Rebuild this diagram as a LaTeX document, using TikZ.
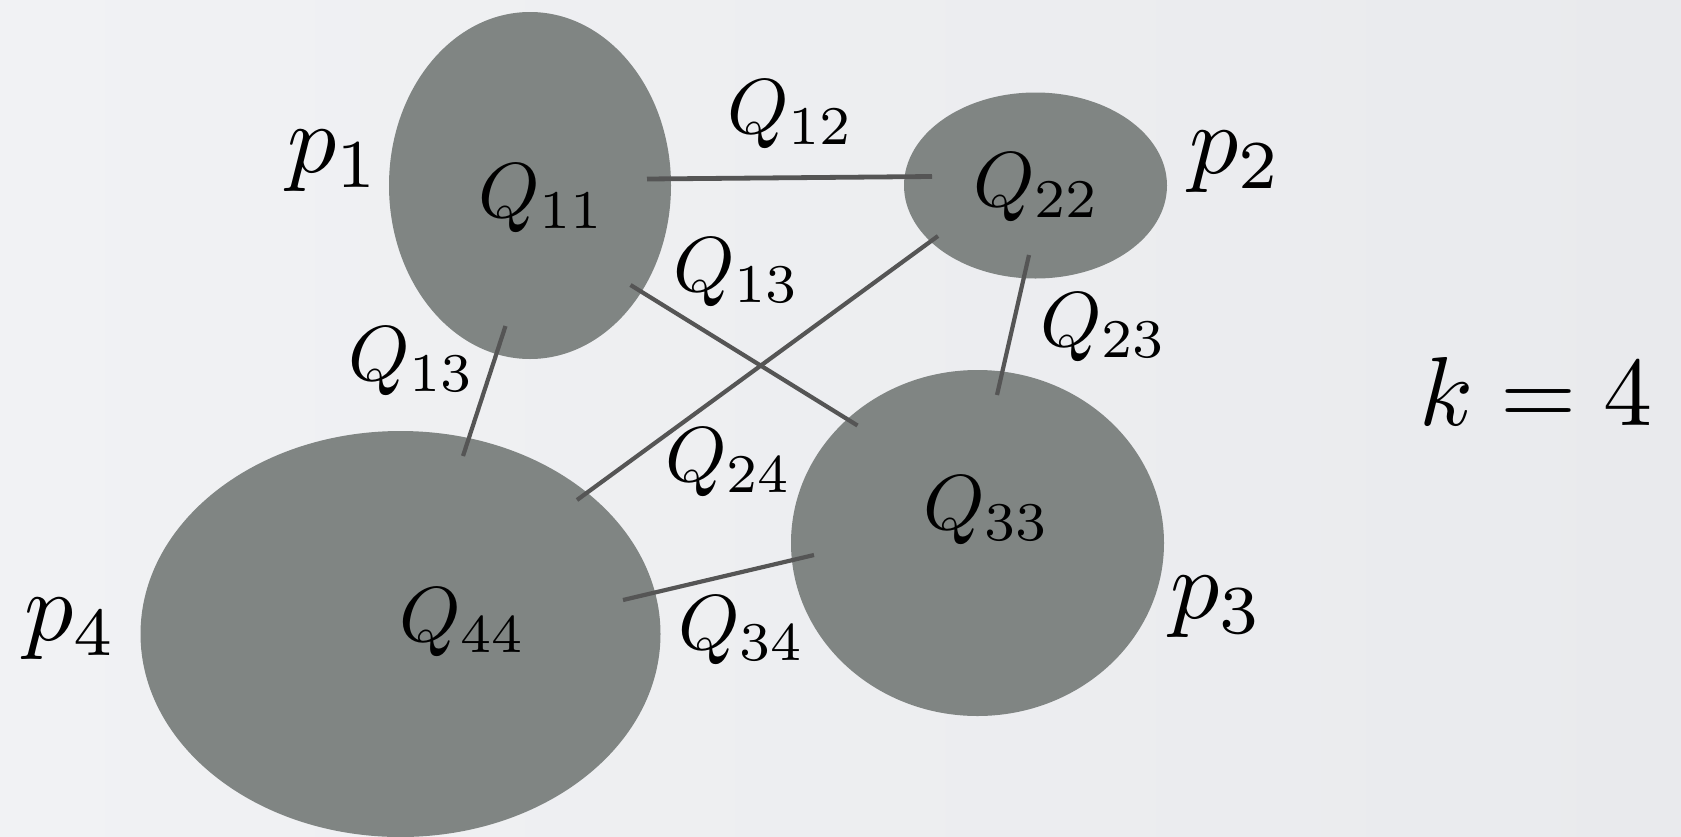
\documentclass[tikz,border=0pt]{standalone}
\usetikzlibrary{shapes.geometric}
\definecolor{bgL}{RGB}{241,242,244}
\definecolor{bgR}{RGB}{233,234,237}
\definecolor{blobc}{RGB}{128,133,131}
\definecolor{linkc}{RGB}{85,85,85}
\begin{document}
\begin{tikzpicture}[x=1pt,y=-1pt,
  blob/.style={ellipse,fill=blobc,draw=none,inner sep=0pt},
  qlab/.style={inner sep=0pt,scale=7.8},
  plab/.style={inner sep=0pt,scale=9.8},
  link/.style={draw=linkc,line width=4.2pt}]
\useasboundingbox (0,0) rectangle (1681,836);
\shade[left color=bgL,right color=bgR] (0,0) rectangle (1681,836);
% blobs
\node[blob,minimum width=282pt,minimum height=347pt] (e1) at (530,185.5) {};
\node[blob,minimum width=263pt,minimum height=186pt] (e2) at (1035.5,185.5) {};
\node[blob,minimum width=373pt,minimum height=346pt] (e3) at (977.5,543) {};
\node[blob,minimum width=520pt,minimum height=406pt] (e4) at (400.5,634) {};
% connector end points
\coordinate (a12) at (647,179);  \coordinate (b12) at (932,176.5);
\coordinate (a14) at (505.5,326); \coordinate (b14) at (463,456);
\coordinate (a13) at (630.5,285); \coordinate (b13) at (857.5,425.5);
\coordinate (a24) at (938,236);  \coordinate (b24) at (577,500);
\coordinate (a23) at (1029,255); \coordinate (b23) at (997,395);
\coordinate (a34) at (814,555);  \coordinate (b34) at (623,600);
\draw[link,line width=4.8pt] (a12) -- (b12);
\draw[link] (a14) -- (b14);
\draw[link] (a13) -- (b13);
\draw[link] (a24) -- (b24);
\draw[link] (a23) -- (b23);
\draw[link] (a34) -- (b34);
% labels
\node[qlab] (q11) at (542,198) {$Q_{11}$};
\node[qlab] (q22) at (1037,187) {$Q_{22}$};
\node[qlab] (q33) at (987,510) {$Q_{33}$};
\node[qlab] (q44) at (463,622) {$Q_{44}$};
\node[qlab] (q12) at (791,114) {$Q_{12}$};
\node[qlab] (q13u) at (737,272) {$Q_{13}$};
\node[qlab] (q13l) at (412,361) {$Q_{13}$};
\node[qlab] (q23) at (1104,327) {$Q_{23}$};
\node[qlab] (q24) at (729,462) {$Q_{24}$};
\node[qlab] (q34) at (742,630) {$Q_{34}$};
\node[plab] (p1) at (334,161) {$p_1$};
\node[plab] (p2) at (1236,162) {$p_2$};
\node[plab] (p3) at (1217,607) {$p_3$};
\node[plab] (p4) at (71,629) {$p_4$};
\node[plab] (k) at (1536,391) {$k=4$};
\end{tikzpicture}
\end{document}
